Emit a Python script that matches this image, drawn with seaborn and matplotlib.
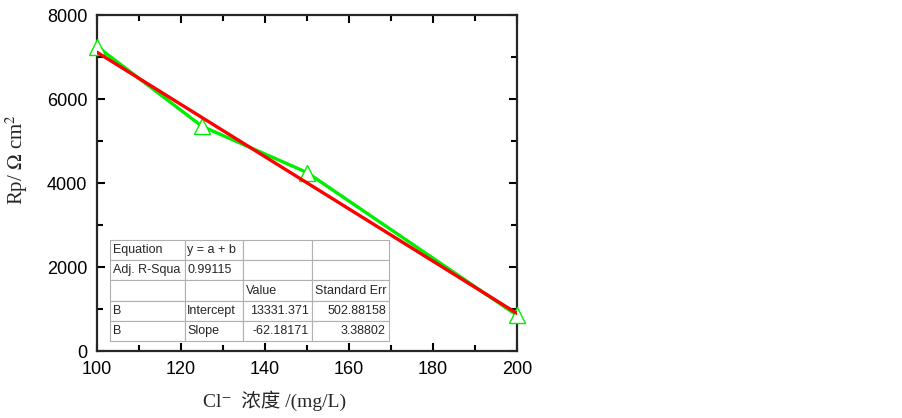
import numpy as np
import pandas as pd
import matplotlib
matplotlib.use("Agg")
import matplotlib.pyplot as plt
import seaborn as sns
from matplotlib.ticker import MultipleLocator

cl_conc = [100, 125, 150, 200]
rp = [7250, 5350, 4250, 850]

# linear fit parameters (as reported in the table)
intercept = 13331.371
slope = -62.18171

table_rows = [
    ["Equation", "y = a + b", "", ""],
    ["Adj. R-Squa", "0.99115", "", ""],
    ["", "", "Value", "Standard Err"],
    ["B", "Intercept", "13331.371", "502.88158"],
    ["B", "Slope", "-62.18171", "3.38802"],
]

sns.set_style("ticks")
plt.rcParams["font.family"] = ["Liberation Sans", "Noto Sans CJK SC", "DejaVu Sans"]
plt.rcParams["mathtext.fontset"] = "stix"

fig = plt.figure(figsize=(9.03, 4.18), dpi=100)
ax = fig.add_axes([97 / 903, 1 - 351 / 418, 420 / 903, 336 / 418])

df = pd.DataFrame({"x": cl_conc, "y": rp})
fit_x = np.array([cl_conc[0], cl_conc[-1]])
fit_df = pd.DataFrame({"x": fit_x, "y": intercept + slope * fit_x})

sns.lineplot(data=df, x="x", y="y", ax=ax, color="#00ee00", lw=2.4,
             marker="^", markersize=12, markerfacecolor="white",
             markeredgecolor="#00ee00", markeredgewidth=1.0, zorder=3, clip_on=False)
sns.lineplot(data=fit_df, x="x", y="y", ax=ax, color="#ff0000", lw=2.4, zorder=4)

ax.set_xlim(100, 200)
ax.set_ylim(0, 8000)
ax.xaxis.set_major_locator(MultipleLocator(20))
ax.xaxis.set_minor_locator(MultipleLocator(10))
ax.yaxis.set_major_locator(MultipleLocator(2000))
ax.yaxis.set_minor_locator(MultipleLocator(1000))
ax.tick_params(which="both", direction="in", top=True, right=True, width=1.5,
               labelsize=13, colors="black")
ax.tick_params(which="major", length=6, pad=7)
ax.tick_params(which="minor", length=4)
for s in ax.spines.values():
    s.set_linewidth(1.6)
    s.set_visible(True)

ax.set_xlabel("Cl\u207b  浓度 /(mg/L)", fontsize=14,
              family=["Liberation Serif", "Noto Sans CJK SC", "DejaVu Serif"])
ax.xaxis.set_label_coords((275 - 97) / 420, -40 / 336)
ax.set_ylabel(r"Rp/ $\Omega$ cm$^{2}$", fontsize=15, family=["Liberation Serif"])
ax.yaxis.set_label_coords(-67 / 420, (351 - 160) / 336)

tbl = ax.table(cellText=table_rows, cellLoc="left",
               colWidths=[75, 58, 69, 77],
               bbox=[(110 - 97) / 420, (351 - 341) / 336, 279 / 420, 101 / 336],
               zorder=5)
tbl.auto_set_font_size(False)
tbl.set_fontsize(9)
for (r, c), cell in tbl.get_celld().items():
    cell.set_edgecolor("#b0b0b0")
    cell.set_linewidth(0.8)
    cell.PAD = 0.04
    if r >= 3 and c >= 2:
        cell.get_text().set_ha("right")
        cell._loc = "right"

fig.savefig("out.png", dpi=100)
